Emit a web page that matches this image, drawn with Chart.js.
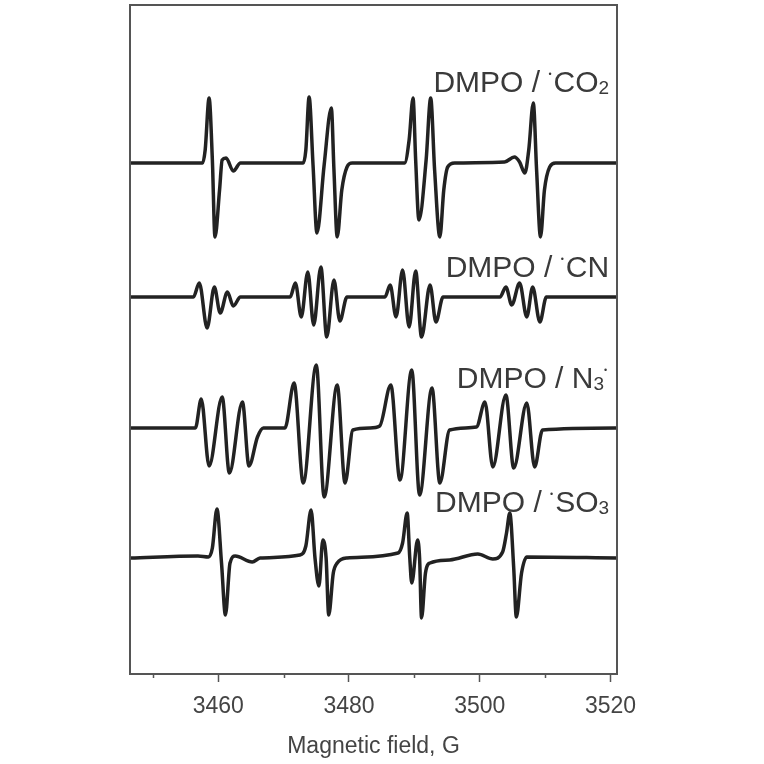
<!DOCTYPE html>
<html>
<head>
<meta charset="utf-8">
<script src="https://cdn.jsdelivr.net/npm/chart.js@4.4.0/dist/chart.umd.min.js"></script>
<style>
  html, body { margin: 0; padding: 0; background: #fff; }
  #wrap { width: 764px; height: 764px; }
</style>
</head>
<body>
<div id="wrap"><canvas id="epr" width="764" height="764"></canvas></div>
<script>
// Magnetic field (G) and signal (a.u., relative to each trace's baseline)
const fieldCO2 = [3446.6, 3457.6, 3458.0, 3458.6, 3459.1, 3459.5, 3460.2, 3460.6, 3461.2, 3462.3, 3463.4,
  3473.0, 3473.4, 3473.9, 3474.5, 3475.1, 3476.2, 3477.3, 3477.7, 3478.2, 3478.9, 3479.7, 3480.5,
  3488.5, 3489.2, 3489.8, 3490.2, 3490.7, 3491.8, 3492.5, 3493.1, 3493.9, 3494.5, 3495.1, 3496.2,
  3503.8, 3505.3, 3506.1, 3506.9, 3507.5, 3508.2, 3508.7, 3509.3, 3509.9, 3510.7, 3511.6, 3520.9];
const signalCO2 = [0, 0, 13, 65, 3, -74, -27, 3, 5, -8, 0,
  0, 13, 66, -2, -70, -2, 55, -7, -74, -27, -4, 0,
  0, 23, 65, 3, -57, 3, 65, -7, -74, -27, -4, 0,
  1, 6, 1, -10, 13, 60, -7, -74, -27, -4, 0, 0];

const fieldCN = [3446.6, 3456.2, 3457.1, 3458.3, 3459.4, 3460.3, 3461.4, 3462.3, 3463.4,
  3471.0, 3471.8, 3472.7, 3473.7, 3474.6, 3475.7, 3476.6, 3477.7, 3478.6, 3479.7,
  3485.5, 3486.3, 3487.2, 3488.2, 3489.2, 3490.2, 3491.1, 3492.4, 3493.3, 3494.4,
  3503.1, 3504.0, 3504.9, 3506.1, 3507.2, 3508.1, 3509.2, 3510.2, 3520.9];
const signalCN = [0, 0, 14, -31, 10, -16, 5, -9, 0,
  0, 14, -20, 25, -28, 30, -40, 17, -24, 0,
  0, 12, -20, 27, -30, 26, -40, 12, -25, 0,
  0, 10, -8, 14, -20, 10, -25, 0, 0];

const fieldN3 = [3446.6, 3456.5, 3457.4, 3458.6, 3460.6, 3461.7, 3463.7, 3464.7, 3466.0, 3466.9,
  3470.2, 3471.6, 3473.0, 3475.0, 3476.2, 3478.2, 3479.4, 3480.6,
  3483.2, 3484.7, 3486.4, 3487.8, 3489.6, 3490.8, 3492.7, 3493.9, 3495.4,
  3499.5, 3500.8, 3502.0, 3504.0, 3505.2, 3507.2, 3508.4, 3509.6, 3520.9];
const signalN3 = [0, 0, 29, -38, 31, -45, 26, -38, -9, 0,
  0, 45, -55, 63, -69, 43, -55, -2,
  0, 2, 43, -52, 58, -67, 40, -55, -2,
  1, 26, -39, 33, -40, 25, -39, -2, 0];

const fieldSO3 = [3446.6, 3456.9, 3458.5, 3459.1, 3459.8, 3460.5, 3461.1, 3461.8, 3462.6, 3465.2, 3466.4,
  3472.5, 3473.4, 3474.2, 3474.8, 3475.4, 3476.0, 3476.5, 3476.9, 3477.6, 3478.2, 3479.7,
  3487.5, 3488.2, 3488.9, 3489.3, 3489.6, 3490.5, 3490.8, 3491.1, 3491.7, 3492.4, 3495.4,
  3499.7, 3502.0, 3503.5, 3504.1, 3504.6, 3505.2, 3505.6, 3506.4, 3507.2, 3520.9];
const signalSO3 = [0, 2, 1, 10, 49, -5, -57, -5, 2, -4, 0,
  3, 12, 48, 0, -28, 18, 0, -57, -15, -5, 0,
  5, 15, 45, 0, -25, 18, 0, -60, -15, -5, -2,
  4, -1, 6, 25, 45, -10, -59, -15, 1, 0];

// vertical stacking offsets of the baselines (a.u.)
const baselines = [511, 377, 246, 116];

// label pieces: n = normal, sub = subscript, dot = radical dot
const traceLabels = [
  [["DMPO / ", "n"], ["•", "dot"], ["CO", "n"], ["2", "sub"]],
  [["DMPO / ", "n"], ["•", "dot"], ["CN", "n"]],
  [["DMPO / N", "n"], ["3", "sub"], ["•", "dot"]],
  [["DMPO / ", "n"], ["•", "dot"], ["SO", "n"], ["3", "sub"]]
];
const labelBaselines = [582, 397, 286, 162];

const tickValues = [3450, 3460, 3470, 3480, 3490, 3500, 3510, 3520];
const majorTicks = [3460, 3480, 3500, 3520];

const FONT = "'Liberation Sans', Arial, sans-serif";
const INK = "#222";

function makeSeries(field, signal, base) {
  return field.map((x, i) => ({ x: x, y: base + signal[i] }));
}

const series = [
  makeSeries(fieldCO2, signalCO2, baselines[0]),
  makeSeries(fieldCN, signalCN, baselines[1]),
  makeSeries(fieldN3, signalN3, baselines[2]),
  makeSeries(fieldSO3, signalSO3, baselines[3])
];

function partFont(kind, size) {
  if (kind === "sub") return Math.round(size * 0.62) + "px " + FONT;
  if (kind === "dot") return Math.round(size * 0.3) + "px " + FONT;
  return size + "px " + FONT;
}

// frame, minor ticks and the trace labels
const decorations = {
  id: "decorations",
  afterDraw(chart) {
    const { ctx, chartArea: a, scales } = chart;
    ctx.save();
    ctx.strokeStyle = "#555";
    ctx.lineWidth = 2;
    ctx.strokeRect(a.left, a.top, a.right - a.left, a.bottom - a.top);

    ctx.lineWidth = 1.5;
    tickValues.filter(v => !majorTicks.includes(v)).forEach(v => {
      const px = Math.round(scales.x.getPixelForValue(v)) + 0.5;
      ctx.beginPath();
      ctx.moveTo(px, a.bottom);
      ctx.lineTo(px, a.bottom + 4);
      ctx.stroke();
    });

    ctx.fillStyle = "#3a3a3a";
    ctx.textBaseline = "alphabetic";
    const size = 30;
    traceLabels.forEach((parts, i) => {
      const right = scales.x.getPixelForValue(3519.8);
      const base = scales.y.getPixelForValue(labelBaselines[i]);
      const widths = parts.map(([t, kind]) => {
        ctx.font = partFont(kind, size);
        return ctx.measureText(t).width + (kind === "dot" ? 2 : 0);
      });
      let x = right - widths.reduce((s, w) => s + w, 0);
      parts.forEach(([t, kind], j) => {
        ctx.font = partFont(kind, size);
        let y = base;
        if (kind === "sub") y = base + 2;
        if (kind === "dot") y = base - size * 0.5;
        ctx.fillText(t, x, y);
        x += widths[j];
      });
    });
    ctx.restore();
  }
};

new Chart(document.getElementById("epr"), {
  type: "line",
  data: {
    datasets: series.map(d => ({
      data: d,
      borderColor: INK,
      borderWidth: 3.5,
      pointRadius: 0,
      fill: false,
      cubicInterpolationMode: "monotone",
      borderJoinStyle: "round"
    }))
  },
  options: {
    responsive: false,
    animation: false,
    events: [],
    layout: { padding: { left: 130, right: 147, top: 5, bottom: 0 } },
    plugins: {
      legend: { display: false },
      tooltip: { enabled: false }
    },
    scales: {
      x: {
        type: "linear",
        min: 3446.5,
        max: 3521,
        afterBuildTicks: scale => { scale.ticks = tickValues.map(v => ({ value: v })); },
        afterFit: scale => { scale.height = 90; },
        border: { display: false },
        grid: {
          drawOnChartArea: false,
          drawTicks: true,
          tickLength: 8,
          tickWidth: 1.5,
          tickColor: c => (c.tick && majorTicks.includes(c.tick.value)) ? "#555" : "rgba(0,0,0,0)"
        },
        ticks: {
          padding: 11,
          color: "#444",
          font: { family: FONT, size: 23 },
          callback: v => majorTicks.includes(v) ? String(v) : ""
        },
        title: {
          display: true,
          text: "Magnetic field, G",
          color: "#444",
          font: { family: FONT, size: 23 },
          padding: { top: 0, bottom: 4 }
        }
      },
      y: {
        display: false,
        min: 0,
        max: 669
      }
    }
  },
  plugins: [decorations]
});
</script>
</body>
</html>
